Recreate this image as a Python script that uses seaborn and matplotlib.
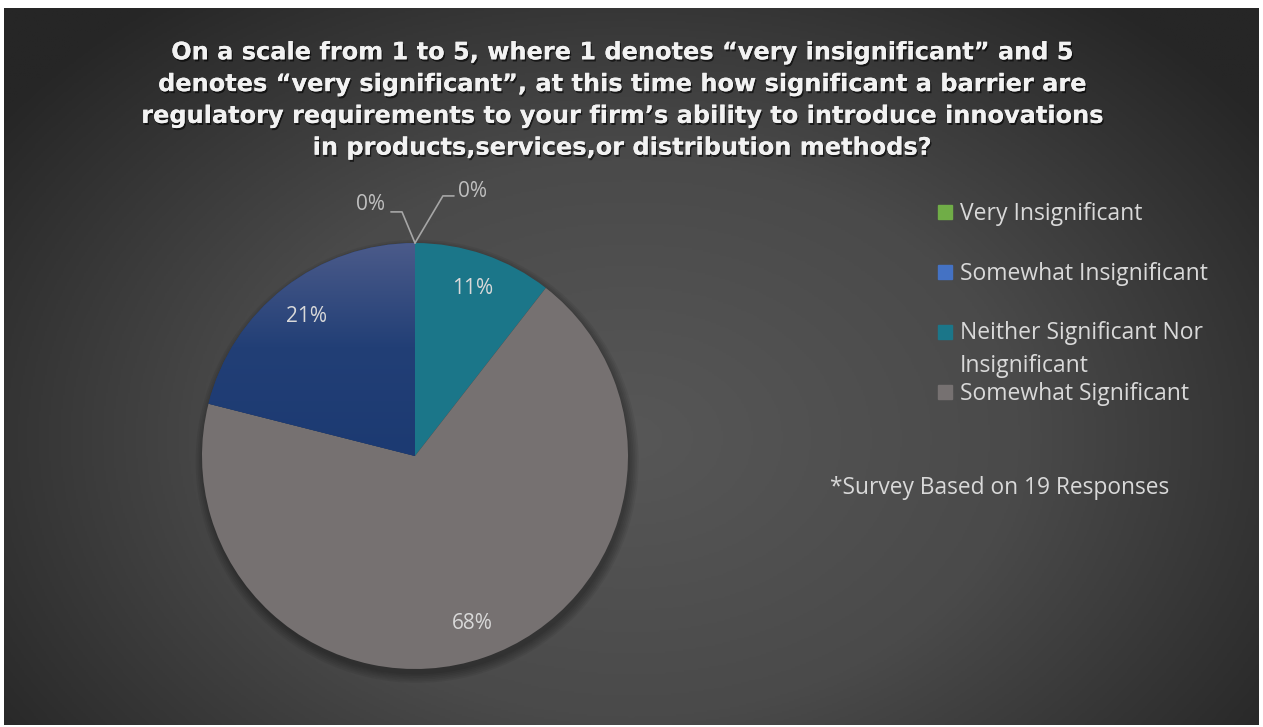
import numpy as np
import matplotlib.pyplot as plt
import matplotlib.patheffects as pe
from matplotlib.colors import LinearSegmentedColormap
from matplotlib.patches import Rectangle, Circle
import seaborn as sns

# survey data (19 responses)
categories = ['Very Insignificant', 'Somewhat Insignificant',
              'Neither Significant Nor\nInsignificant', 'Somewhat Significant',
              'Very Significant']
responses = [0, 0, 2, 13, 4]
slice_colors = ['#70AD47', '#4472C4', '#1B7689', '#767171', '#203D74']

title = ('On a scale from 1 to 5, where 1 denotes \u201cvery insignificant\u201d and 5\n'
         'denotes \u201cvery significant\u201d, at this time how significant a barrier are\n'
         'regulatory requirements to your firm\u2019s ability to introduce innovations\n'
         'in products,services,or distribution methods?')
note = '*Survey Based on 19 Responses'

sns.set_theme(style='dark')
plt.rcParams['font.family'] = ['Open Sans', 'DejaVu Sans']
plt.rcParams['axes.unicode_minus'] = False

W, H = 1263, 727
fig = plt.figure(figsize=(W / 100, H / 100), dpi=100, facecolor='white')

# dark radial gradient background
bg = fig.add_axes([4 / W, 2 / H, 1255 / W, 717 / H])
bg.set_zorder(-1)
yy, xx = np.mgrid[0:1:400j, 0:1:700j]
d = np.sqrt(((xx - 0.5) / 0.62) ** 2 + ((yy - 0.6) / 0.78) ** 2)
bg_cmap = LinearSegmentedColormap.from_list('bg', ['#575757', '#4a4a4a', '#262626'])
bg.imshow(np.clip(d, 0, 1), cmap=bg_cmap, aspect='auto', extent=(0, 1, 0, 1),
          origin='upper', vmin=0, vmax=1)
bg.axis('off')

# pie axes: center (415, 456) px, radius 213 px
R, L = 213, 1.35
side = 2 * L * R
cx, cy = 415, H - 456
ax = fig.add_axes([(cx - side / 2) / W, (cy - side / 2) / H, side / W, side / H])
ax.patch.set_alpha(0)

# soft shadow
for k in range(6):
    ax.add_patch(Circle((0.01, -0.025), 1 + 0.008 * k, color='black', alpha=0.06, zorder=0, lw=0))

wedges, texts, autotexts = ax.pie(
    responses, colors=slice_colors, startangle=90, counterclock=False,
    autopct=lambda p: f'{p:.0f}%', pctdistance=0.83, radius=1,
    wedgeprops=dict(linewidth=0),
    textprops=dict(color='#d9d9d9', fontsize=15))

# vertical gradient on the navy slice
navy_cmap = LinearSegmentedColormap.from_list('navy', ['#1c3a72', '#223f76', '#4d5c8b'])
grad = np.linspace(0, 1, 256).reshape(-1, 1)
im = ax.imshow(grad, extent=(-1.05, 0.05, 0.0, 1.02), origin='lower', cmap=navy_cmap,
               aspect='auto', zorder=1.5)
im.set_clip_path(wedges[4])

# zero-value labels with leader lines
zero_color = '#bfbfbf'
autotexts[0].set_position((-0.14, 1.183))
autotexts[0].set_ha('right')
autotexts[0].set_color(zero_color)
autotexts[1].set_position((0.20, 1.244))
autotexts[1].set_ha('left')
autotexts[1].set_color(zero_color)
ax.plot([-0.113, -0.061, 0], [1.146, 1.146, 1.0], color='#a6a6a6', lw=1.2, zorder=4)
ax.plot([0.183, 0.131, 0], [1.221, 1.221, 1.0], color='#a6a6a6', lw=1.2, zorder=4)

ax.set_xlim(-L, L)
ax.set_ylim(-L, L)
ax.axis('off')

# title
fig.text(622 / W, 1 - 100 / H, title, ha='center', va='center', color='#f2f2f2',
         fontsize=17.3, fontweight='bold', family=['DejaVu Sans'], linespacing=1.41,
         path_effects=[pe.withSimplePatchShadow(offset=(1, -1.5), shadow_rgbFace='black', alpha=0.6),
                       pe.Normal()])

# legend (Very Significant entry is cut off in the original)
legend_y = [212, 272, 332, 392]
for cat, col, y in zip(categories[:4], slice_colors[:4], legend_y):
    fig.patches.append(Rectangle((938 / W, 1 - (y + 7) / H), 14 / W, 14 / H,
                                 transform=fig.transFigure, color=col, figure=fig))
    fig.text(960 / W, 1 - (y + 33 * cat.count('\n') + 7.5) / H, cat, ha='left', va='baseline',
             color='#d9d9d9', fontsize=16.5, linespacing=1.55)

fig.text(1000 / W, 1 - (487 + 7.5) / H, note, ha='center', va='baseline', color='#d9d9d9',
         fontsize=16.4)

fig.savefig('out.png', dpi=100, facecolor=fig.get_facecolor())
